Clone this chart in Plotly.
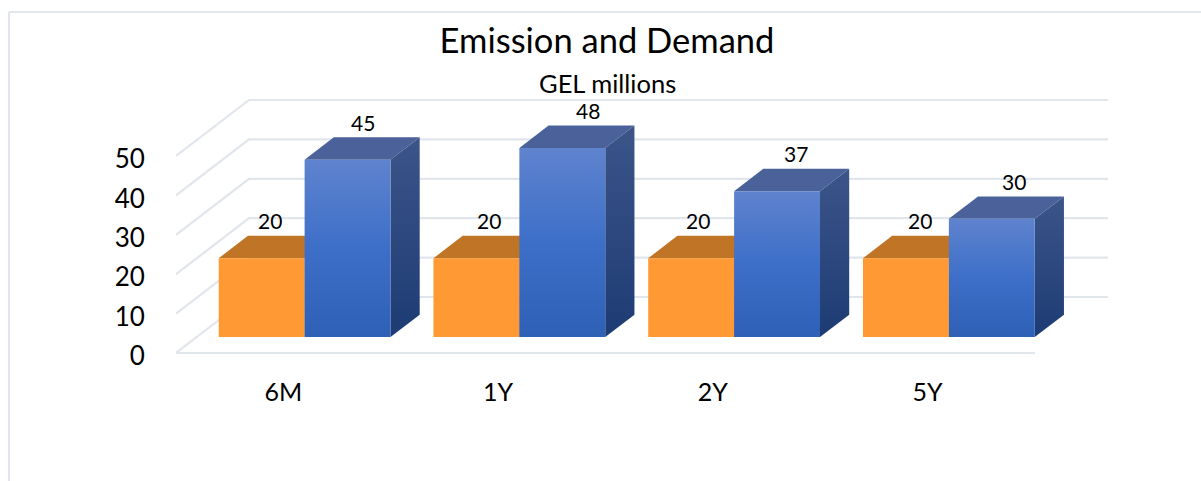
import plotly.graph_objects as go

categories = ["6M", "1Y", "2Y", "5Y"]
emission = [20, 20, 20, 20]
demand = [45, 48, 37, 30]
y_ticks = [0, 10, 20, 30, 40, 50]

# label nudges (px) as hand-placed in the reference
emission_label_dx = [8, 13, 7, 14]
demand_label_dx = [15, 26, 19, 22]

W, H = 1201, 481
L, R, T, B = 176, 93, 95, 123
PAD = 5                # px of plot area kept beyond the wall and floor lines
PX_X = 214.75          # px per category
PX_Y = 3.94            # px per value unit
WALL_X = 73 / PX_X     # depth offset of the back wall, axis units
WALL_Y = 56 / PX_Y
D0, D1 = 0.285, 0.685  # bar depth span
GAP, BW = 0.102, 0.4
GRID = "#E1E5EC"
FONT = "Lato"

fig = go.Figure()


def dpt(x, v, d):
    return x + WALL_X * d, v + WALL_Y * d


def grid(xs, ys):
    fig.add_trace(go.Scatter(x=xs, y=ys, mode="lines", line=dict(color=GRID, width=2.2),
                             hoverinfo="skip", showlegend=False, cliponaxis=False))


n = len(categories)
for t in y_ticks:
    bx, by = dpt(0, t, 1)
    ex, _ = dpt(n, t, 1)
    grid([0, bx, ex], [t, by, by])
grid([0, n], [0, 0])


def poly(pts, fillcolor=None, gradient=None):
    xs = [p[0] for p in pts] + [pts[0][0]]
    ys = [p[1] for p in pts] + [pts[0][1]]
    kw = {}
    if gradient:
        kw["fillgradient"] = dict(type="vertical", colorscale=gradient)
    else:
        kw["fillcolor"] = fillcolor
    fig.add_trace(go.Scatter(x=xs, y=ys, mode="lines", line=dict(width=0), fill="toself",
                             hoverinfo="skip", showlegend=False, cliponaxis=False, **kw))


def bar(x0, v, top, side=None, front=None, frontg=None, sideg=None):
    x1 = x0 + BW
    f = [dpt(x0, 0, D0), dpt(x1, 0, D0), dpt(x1, v, D0), dpt(x0, v, D0)]
    tp = [dpt(x0, v, D0), dpt(x1, v, D0), dpt(x1, v, D1), dpt(x0, v, D1)]
    sd = [dpt(x1, 0, D0), dpt(x1, 0, D1), dpt(x1, v, D1), dpt(x1, v, D0)]
    poly(tp, fillcolor=top)
    poly(sd, fillcolor=side, gradient=sideg)
    poly(f, fillcolor=front, gradient=frontg)


front_blue = [[0, "#2E60B6"], [0.5, "#3D6FC8"], [1, "#5F83CE"]]
side_blue = [[0, "#1D3B74"], [1, "#3C5589"]]

for i in range(n):
    bar(i + GAP, emission[i], "#C07526", side="#C07526", front="#FF9933")
for i in range(n):
    bar(i + GAP + BW, demand[i], "#4A6299", front=None, frontg=front_blue, sideg=side_blue)

ann = []
for i in range(n):
    for v, x0, dx in ((emission[i], i + GAP, emission_label_dx[i]),
                      (demand[i], i + GAP + BW, demand_label_dx[i])):
        ax, ay = dpt(x0 + BW / 2, v, D1)
        ax -= WALL_X * (D1 - D0)
        ann.append(dict(x=ax, y=ay, text=str(v), showarrow=False, xshift=dx, yshift=15,
                        xanchor="center", yanchor="middle",
                        font=dict(family=FONT, size=21, color="#000000")))

ann.append(dict(xref="paper", yref="paper", x=(607 - L) / (W - L - R), y=(H - B - 83) / (H - T - B),
                text="GEL millions", showarrow=False, xanchor="center", yanchor="middle",
                font=dict(family=FONT, size=25.5, color="#000000")))

shapes = [
    dict(type="line", xref="paper", yref="paper", x0=(9 - L) / (W - L - R), x1=(W - L) / (W - L - R),
         y0=(H - B - 12) / (H - T - B), y1=(H - B - 12) / (H - T - B), line=dict(color=GRID, width=2), layer="below"),
    dict(type="line", xref="paper", yref="paper", x0=(9 - L) / (W - L - R), x1=(9 - L) / (W - L - R),
         y0=(H - B - 12) / (H - T - B), y1=(H - B - H) / (H - T - B), line=dict(color=GRID, width=2), layer="below"),
]

fig.update_layout(
    width=W, height=H, margin=dict(l=L, r=R, t=T, b=B, pad=0),
    paper_bgcolor="#FFFFFF", plot_bgcolor="rgba(0,0,0,0)", showlegend=False,
    title=dict(text="Emission and Demand", x=607 / W, y=1 - 41 / H, xref="container", yref="container",
               xanchor="center", yanchor="middle", font=dict(family=FONT, size=34.5, color="#000000")),
    xaxis=dict(range=[0, (W - L - R) / PX_X], tickvals=[i + 0.5 for i in range(n)], ticktext=categories,
               showgrid=False, zeroline=False, showline=False, ticks="outside", ticklen=12,
               tickcolor="rgba(0,0,0,0)", tickfont=dict(family=FONT, size=25, color="#000000")),
    yaxis=dict(range=[-PAD / PX_Y, (H - T - B - PAD) / PX_Y], tickvals=y_ticks, showgrid=False, zeroline=False,
               showline=False, ticks="outside", ticklen=25, tickcolor="rgba(0,0,0,0)", ticklabelshift=3,
               tickfont=dict(family=FONT, size=26, color="#000000")),
    annotations=ann, shapes=shapes,
)

fig.write_html("out.html", config=dict(displayModeBar=False),
               post_script="document.body.style.margin='0';document.body.style.overflow='hidden';")
